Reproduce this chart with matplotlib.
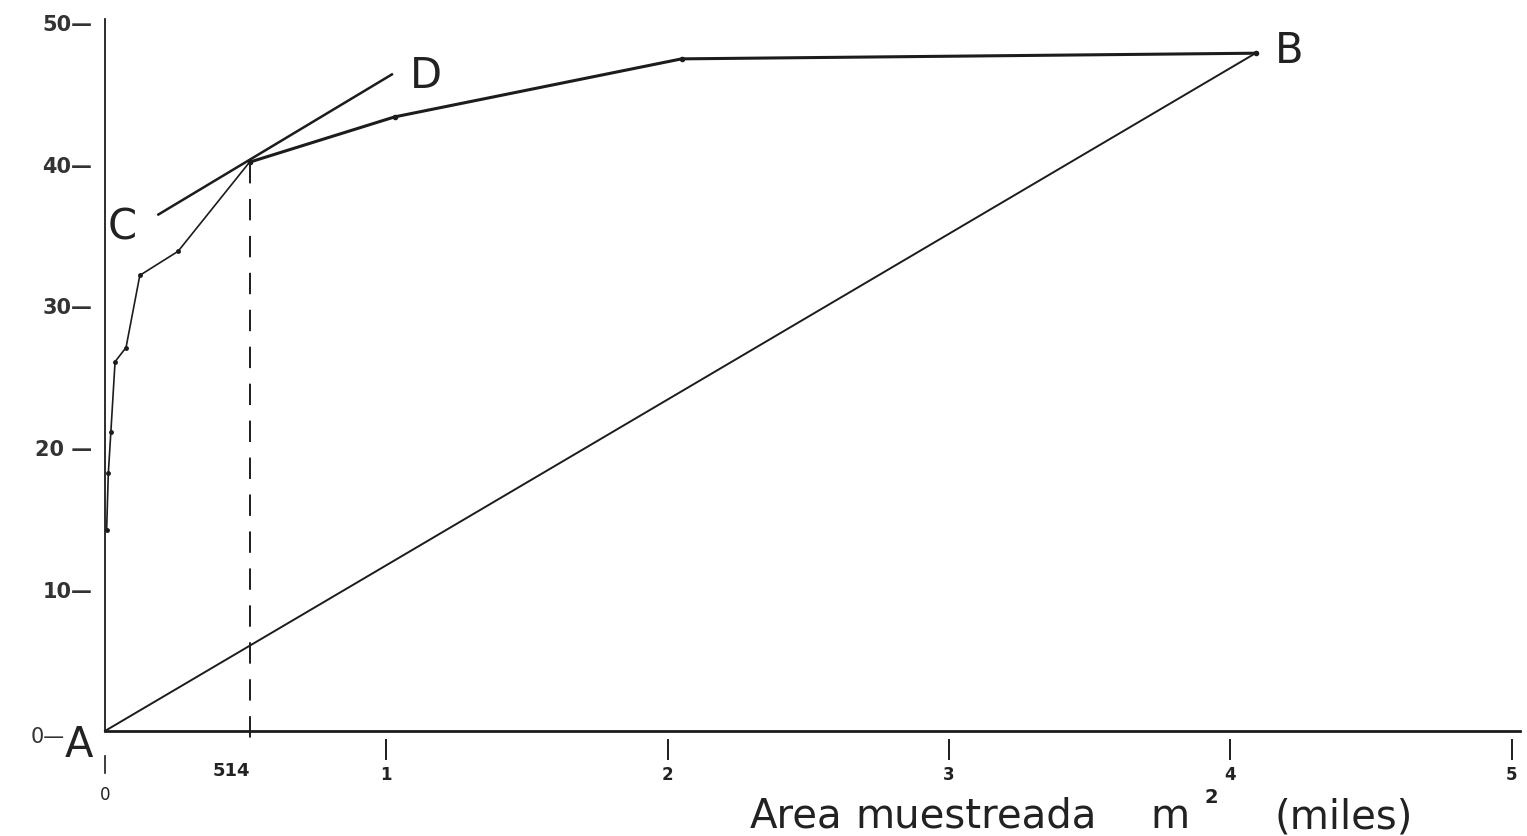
import matplotlib
matplotlib.use("Agg")
import matplotlib.pyplot as plt

# Species-area curve (area in thousands of m2)
AREA_K = [0.006, 0.012, 0.021, 0.036, 0.075, 0.124, 0.26, 0.514, 1.03, 2.05, 4.09]
SPECIES = [14.2, 18.2, 21.1, 26.1, 27.1, 32.2, 33.9, 40.2, 43.4, 47.5, 47.9]

# tangent C-D through the 514 m2 point
TANGENT_X = [0.19, 1.02]
TANGENT_Y = [36.5, 46.4]

CUT_AREA = 0.514
CUT_LABEL = "514"

X_TICKS = [1, 2, 3, 4, 5]
X_TICK_LABELS = ["1", "2", "3", "4", "5"]
Y_TICKS = [10, 20, 30, 40, 50]
Y_TICK_LABELS = ["10—", "20 —", "30—", "40—", "50—"]

INK = "#1c1c1c"

fig = plt.figure(figsize=(15.27, 8.36), dpi=100, facecolor="white")
ax = fig.add_axes([0, 0, 1, 1])
ax.set_facecolor("white")
ax.set_xlim(-0.373, 5.055)
ax.set_ylim(-7.42, 51.66)

# axes drawn as spines crossing at the origin
for side in ("top", "right"):
    ax.spines[side].set_visible(False)
ax.spines["left"].set_position(("data", 0))
ax.spines["bottom"].set_position(("data", 0))
ax.spines["left"].set_bounds(0, 50.3)
ax.spines["bottom"].set_bounds(0, 5.03)
ax.spines["left"].set_linewidth(1.3)
ax.spines["bottom"].set_linewidth(2.0)
ax.spines["left"].set_color(INK)
ax.spines["bottom"].set_color(INK)

ax.set_yticks(Y_TICKS, Y_TICK_LABELS)
ax.tick_params(axis="y", length=0, pad=9, labelsize=15, labelcolor="#333333")
for lab in ax.get_yticklabels():
    lab.set_fontweight("bold")
ax.set_xticks([])

# detached x tick dashes and labels
for xt, lab in zip(X_TICKS, X_TICK_LABELS):
    ax.plot([xt, xt], [-0.65, -2.0], color=INK, lw=1.4)
    ax.text(xt, -2.5, lab, ha="center", va="top", fontsize=12,
            fontweight="bold", color="#222222")
ax.plot([0, 0], [-1.8, -3.0], color=INK, lw=1.2)
ax.text(0, -3.9, "0", ha="center", va="top", fontsize=12, color="#222222")
ax.text(CUT_AREA - 0.065, -2.2, CUT_LABEL, ha="center", va="top",
        fontsize=13, fontweight="bold", color="#222222")
ax.text(-0.142, -0.42, "0—", ha="right", va="center", fontsize=15,
        color="#333333")

# species-area curve: thin near origin, heavier after the 514 point
i_cut = AREA_K.index(CUT_AREA)
ax.plot(AREA_K[:i_cut + 1], SPECIES[:i_cut + 1], color=INK, lw=1.2,
        marker="o", markersize=2.5, zorder=3)
ax.plot(AREA_K[i_cut:], SPECIES[i_cut:], color=INK, lw=2.2,
        marker="o", markersize=3, zorder=3)

# straight line A-B
ax.plot([0, AREA_K[-1]], [0, SPECIES[-1]], color=INK, lw=1.4, zorder=2)

# tangent C-D
ax.plot(TANGENT_X, TANGENT_Y, color=INK, lw=1.8, zorder=2)

# dashed drop from the tangent point
ax.plot([CUT_AREA, CUT_AREA], [SPECIES[i_cut], -0.9], color=INK, lw=1.4,
        dashes=(11, 8), zorder=2)

# letters
letter_kw = dict(fontsize=30, color="#222222", va="baseline", ha="left")
ax.text(-0.142, -1.84, "A", **letter_kw)
ax.text(0.011, 34.7, "C", **letter_kw)
ax.text(1.084, 45.44, "D", **letter_kw)
ax.text(AREA_K[-1] + 0.07, 47.2, "B", **letter_kw)

# axis title, hand-lettered and loosely spaced
title_kw = dict(va="baseline", ha="left", fontsize=29, color="#222222")
W, H = 1527, 836
for word, px in [("Area", 750), ("muestreada", 855), ("m", 1150), ("(miles)", 1275)]:
    fig.text(px / W, 1 - 828 / H, word, **title_kw)
fig.text(1204 / W, 1 - 803 / H, "2", va="baseline", ha="left",
         fontsize=14, fontweight="bold", color="#222222")

fig.savefig("out.png", dpi=100, facecolor="white")
